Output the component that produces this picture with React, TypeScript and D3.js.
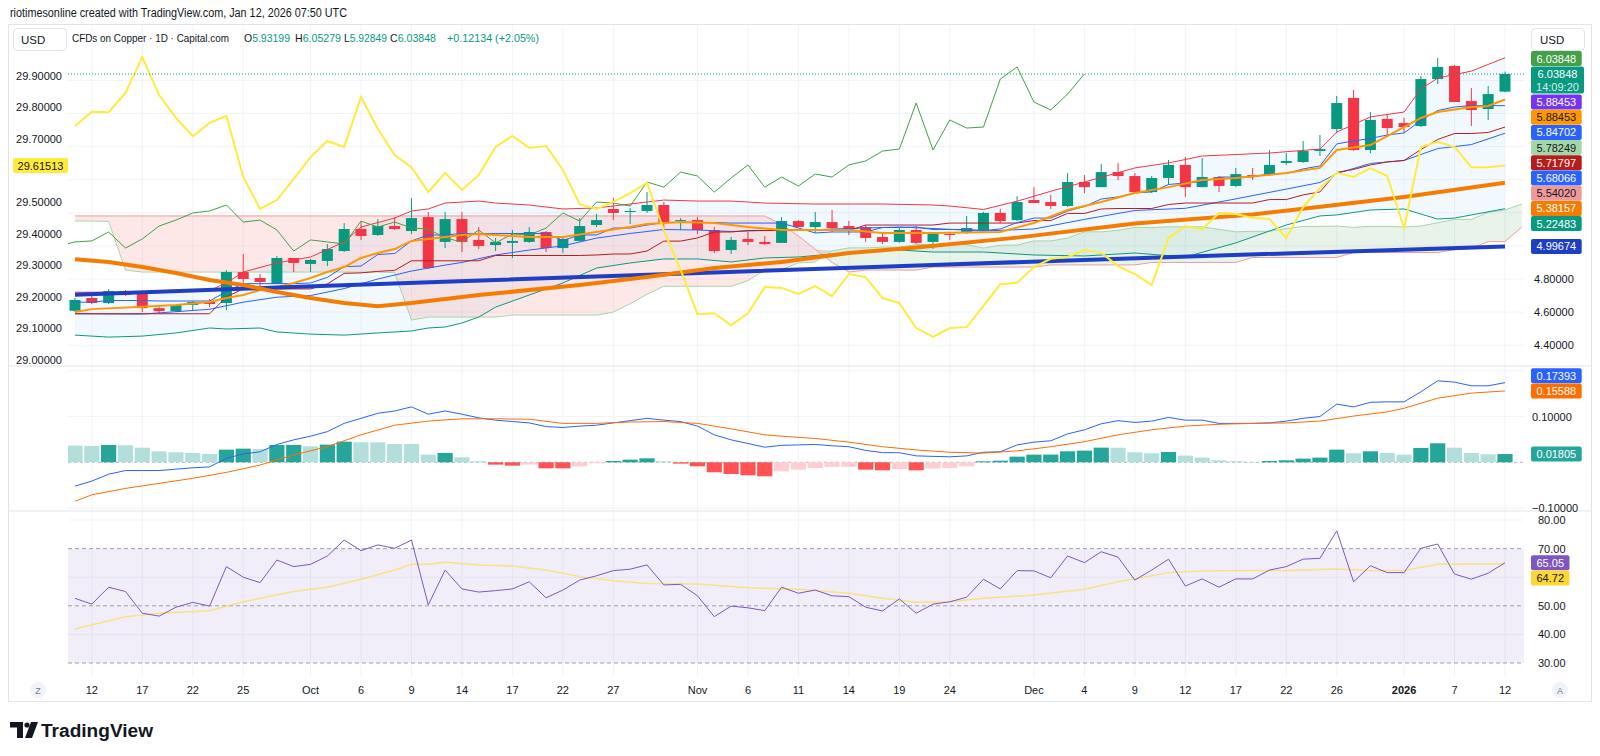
import React from "react";
import * as d3 from "d3";

const FONT = "'Liberation Sans', Arial, sans-serif";
const TEXT = "#131722";
const UP = "#089981";
const DOWN = "#F23645";
const GRID = "#F0F3FA";

// Daily candles, Sep 11 2025 .. Jan 12 2026 (86 sessions)
const opens = [4.608,4.685,4.655,4.727,4.709,4.624,4.606,4.643,4.661,4.655, 4.842,4.806,4.770,4.927,4.891,4.909,4.969,5.102,5.066,5.120, 5.090,5.174,5.024,5.162,5.036,5.005,5.018,5.024,5.084,4.987, 5.030,5.126,5.223,5.205,5.211,5.247,5.150,5.156,5.096,4.975, 5.042,5.024,5.018,5.150,5.114,5.144,5.120,5.114,5.054,5.024, 5.096,5.024,5.072,5.078,5.096,5.199,5.156,5.277,5.265,5.241, 5.386,5.355,5.446,5.422,5.325,5.410,5.489,5.355,5.416,5.362, 5.428,5.428,5.501,5.507,5.573,5.706,5.894,5.579,5.767,5.742, 5.724,6.008,6.087,5.875,5.827,5.93199];
const highs = [4.685,4.703,4.739,4.733,4.715,4.636,4.643,4.667,4.679,4.854, 4.951,4.830,4.939,4.927,4.921,5.011,5.138,5.144,5.162,5.174, 5.289,5.205,5.205,5.205,5.114,5.048,5.096,5.114,5.090,5.054, 5.168,5.193,5.289,5.229,5.325,5.265,5.168,5.174,5.114,5.054, 5.084,5.060,5.174,5.156,5.205,5.217,5.150,5.126,5.078,5.108, 5.120,5.084,5.084,5.181,5.205,5.223,5.301,5.355,5.307,5.440, 5.428,5.495,5.501,5.440,5.422,5.519,5.537,5.531,5.422,5.471, 5.471,5.579,5.561,5.634,5.670,5.906,5.942,5.809,5.791,5.773, 6.026,6.135,6.093,5.954,5.966,6.05279];
const lows = [4.600,4.649,4.649,4.697,4.600,4.594,4.600,4.612,4.630,4.612, 4.776,4.733,4.770,4.842,4.842,4.878,4.963,5.036,5.060,5.096, 5.072,4.860,4.987,4.963,4.981,4.969,4.927,5.018,4.963,4.957, 5.024,5.114,5.156,5.132,5.199,5.084,5.096,5.072,4.957,4.951, 5.005,5.005,5.018,5.114,5.078,5.084,5.066,5.024,5.011,5.018, 5.011,4.981,5.036,5.072,5.090,5.138,5.150,5.259,5.223,5.235, 5.319,5.355,5.398,5.319,5.319,5.368,5.295,5.355,5.325,5.355, 5.398,5.422,5.489,5.501,5.543,5.682,5.573,5.561,5.658,5.682, 5.718,5.978,5.869,5.724,5.761,5.92849];
const closes = [4.673,4.655,4.727,4.703,4.624,4.606,4.643,4.661,4.649,4.842, 4.800,4.782,4.927,4.897,4.915,4.981,5.102,5.060,5.120,5.102, 5.168,4.866,5.162,5.024,4.999,5.024,5.030,5.084,4.987,5.042, 5.120,5.156,5.199,5.211,5.247,5.144,5.156,5.096,4.969,5.036, 5.024,5.011,5.150,5.114,5.144,5.108,5.102,5.048,5.024,5.096, 5.018,5.072,5.066,5.108,5.199,5.150,5.265,5.259,5.241,5.386, 5.355,5.446,5.422,5.325,5.410,5.489,5.355,5.416,5.362,5.434, 5.416,5.489,5.513,5.573,5.585,5.863,5.579,5.761,5.712,5.718, 6.008,6.081,5.869,5.821,5.91714,6.03848];

// Compared symbol on the left scale
const compareLine = [29.740,29.785,29.784,29.845,29.958,29.838,29.766,29.708,29.750,29.772, 29.579,29.478,29.506,29.573,29.642,29.693,29.674,29.832,29.731,29.648, 29.610,29.531,29.592,29.538,29.585,29.674,29.709,29.671,29.677,29.601, 29.493,29.478,29.500,29.528,29.560,29.411,29.285,29.145,29.148,29.110, 29.148,29.231,29.228,29.209,29.234,29.202,29.272,29.262,29.196,29.180, 29.101,29.073,29.101,29.104,29.171,29.240,29.244,29.294,29.320,29.326, 29.348,29.339,29.297,29.272,29.237,29.386,29.424,29.414,29.465,29.462, 29.449,29.446,29.386,29.484,29.544,29.592,29.579,29.607,29.582,29.417, 29.674,29.690,29.674,29.610,29.610,29.61513];

// Ichimoku
const tenkan = [4.66,4.66,4.67,4.67,4.67,4.667,4.667,4.667,4.667,4.724, 4.772,4.772,4.772,4.772,4.776,4.81,4.875,4.878,4.948,4.954, 5.030,5.066,5.066,5.075,5.075,5.075,5.075,5.075,5.075,5.033, 5.066,5.066,5.108,5.108,5.126,5.141,5.141,5.141,5.141,5.138, 5.138,5.138,5.138,5.108,5.078,5.084,5.084,5.084,5.111,5.111, 5.114,5.099,5.099,5.099,5.093,5.102,5.141,5.168,5.168,5.21, 5.238,5.283,5.296,5.32,5.326,5.371,5.38,5.386,5.416,5.416, 5.416,5.437,5.437,5.465,5.483,5.616,5.634,5.649,5.67,5.682, 5.758,5.818,5.839,5.848,5.848,5.84702];
const kijun = [4.59,4.59,4.59,4.59,4.59,4.59,4.59,4.59,4.59,4.692, 4.74,4.74,4.74,4.74,4.74,4.77,4.834,4.837,4.846,4.852, 4.91,4.91,4.91,4.91,4.91,4.942,4.942,4.942,4.942,4.942, 4.942,4.945,4.951,4.951,4.969,5.029,5.029,5.048,5.084,5.084, 5.093,5.093,5.093,5.093,5.093,5.093,5.093,5.126,5.126,5.126, 5.126,5.126,5.138,5.138,5.138,5.138,5.138,5.153,5.153,5.196, 5.196,5.223,5.226,5.226,5.226,5.25,5.259,5.259,5.259,5.259, 5.259,5.28,5.28,5.308,5.326,5.444,5.462,5.489,5.507,5.516, 5.582,5.643,5.679,5.679,5.685,5.71797];
const spanA = [5.150,5.150,5.148,4.854,4.842,4.842,4.842,4.842,4.842,4.842, 4.842,4.842,4.842,4.842,4.842,4.842,4.842,4.842,4.842,4.838, 4.552,4.570,4.570,4.570,4.570,4.570,4.582,4.582,4.582,4.582, 4.582,4.582,4.600,4.650,4.708,4.756,4.756,4.756,4.756,4.756, 4.790,4.855,4.858,4.897,4.903,4.970,4.988,4.988,4.993,4.993, 5.008,5.008,5.008,5.008,4.987,5.004,5.005,5.030,5.030,5.047, 5.085,5.085,5.094,5.112,5.111,5.115,5.115,5.115,5.100,5.085, 5.088,5.088,5.105,5.118,5.118,5.120,5.112,5.118,5.118,5.115, 5.120,5.140,5.160,5.160,5.203,5.217,5.253];
const spanB = [5.181,5.181,5.181,5.181,5.181,5.181,5.181,5.181,5.181,5.181, 5.181,5.181,5.181,5.181,5.181,5.181,5.181,5.181,5.181,5.181, 5.181,5.181,5.181,5.181,5.181,5.181,5.181,5.181,5.181,5.181, 5.181,5.181,5.181,5.181,5.181,5.181,5.181,5.181,5.181,5.181, 5.181,5.181,5.130,5.060,4.980,4.900,4.842,4.854,4.854,4.854, 4.854,4.872,4.872,4.872,4.872,4.872,4.872,4.872,4.885,4.885, 4.885,4.885,4.885,4.885,4.900,4.900,4.900,4.900,4.900,4.900, 4.930,4.930,4.930,4.930,4.930,4.930,4.960,4.960,4.960,4.960, 4.960,4.960,4.977,4.984,5.026,5.026,5.114];

// Bollinger bands, [bar, value]
const bbUpper = [[0,4.72],[4,4.72],[8,4.73],[9,4.776],[10,4.842],[12,4.897],[14,4.933],[16,5.024],[17,5.114],[19,5.168],[20,5.211],[21,5.223],[22,5.259],[24,5.271],[25,5.259],[27,5.247],[29,5.223],[31,5.229],[33,5.253],[35,5.277],[37,5.271],[39,5.271],[41,5.259],[44,5.253],[48,5.253],[51,5.247],[52,5.241],[54,5.22],[56,5.27],[58,5.33],[60,5.386],[63,5.471],[65,5.501],[67,5.543],[71,5.561],[74,5.585],[75,5.688],[77,5.779],[79,5.809],[80,5.948],[81,6.014],[83,6.056],[85,6.13649]];
const bbLower = [[0,4.461],[2,4.449],[4,4.455],[6,4.474],[8,4.504],[9,4.498],[11,4.504],[12,4.48],[14,4.467],[16,4.461],[18,4.474],[20,4.486],[21,4.504],[22,4.51],[23,4.534],[24,4.57],[25,4.63],[27,4.703],[29,4.776],[31,4.866],[33,4.897],[35,4.921],[37,4.921],[39,4.903],[41,4.927],[43,4.933],[45,4.951],[47,4.963],[49,4.975],[51,4.963],[54,4.963],[57,4.945],[60,4.939],[63,4.957],[66,4.933],[69,5.018],[72,5.126],[74,5.181],[75,5.187],[77,5.217],[79,5.223],[81,5.162],[82,5.168],[85,5.22483]];
const bbBasis = [[0,4.59],[4,4.588],[8,4.617],[10,4.66],[12,4.69],[14,4.70],[16,4.742],[18,4.80],[20,4.848],[22,4.884],[23,4.90],[25,4.945],[27,4.975],[29,5.0],[31,5.047],[33,5.075],[35,5.099],[37,5.096],[39,5.087],[41,5.093],[43,5.093],[45,5.102],[47,5.108],[49,5.114],[51,5.105],[54,5.09],[57,5.102],[60,5.16],[63,5.214],[66,5.227],[69,5.284],[72,5.343],[74,5.383],[75,5.437],[77,5.498],[79,5.516],[81,5.588],[83,5.612],[85,5.68066]];

// Moving averages, [bar, value]
const emaFast = [[0,4.60],[1,4.618],[4,4.632],[6,4.643],[8,4.661],[9,4.685],[10,4.703],[11,4.733],[12,4.751],[13,4.776],[14,4.806],[15,4.842],[16,4.872],[17,4.927],[18,4.957],[19,4.981],[20,5.03],[21,5.042],[22,5.054],[23,5.066],[24,5.072],[25,5.066],[27,5.054],[29,5.054],[31,5.084],[33,5.114],[34,5.132],[36,5.144],[38,5.138],[40,5.114],[42,5.096],[46,5.096],[48,5.078],[51,5.078],[55,5.084],[57,5.138],[59,5.217],[61,5.265],[63,5.319],[65,5.355],[67,5.398],[69,5.41],[72,5.44],[74,5.471],[75,5.579],[77,5.609],[79,5.718],[80,5.773],[81,5.809],[83,5.839],[84,5.845],[85,5.88453]];
const maMid = [[0,4.92],[2,4.903],[4,4.873],[6,4.836],[8,4.794],[10,4.764],[12,4.721],[14,4.685],[16,4.655],[18,4.636],[20,4.655],[22,4.679],[24,4.703],[30,4.764],[34,4.812],[38,4.866],[42,4.903],[46,4.957],[50,4.99],[56,5.05],[63,5.135],[70,5.19],[73,5.225],[79,5.295],[85,5.38157]];
const maSlow = [[0,4.705],[12,4.748],[25,4.794],[38,4.840],[51,4.885],[68,4.942],[85,4.99674]];

// MACD (12, 26, 9)
const macdLine = [-0.052,-0.041,-0.026,-0.018,-0.018,-0.018,-0.015,-0.012,-0.010,0.009, 0.018,0.023,0.039,0.049,0.057,0.067,0.085,0.096,0.107,0.112, 0.121,0.105,0.112,0.105,0.097,0.092,0.089,0.086,0.078,0.076, 0.079,0.081,0.086,0.091,0.096,0.092,0.089,0.079,0.060,0.049, 0.041,0.033,0.037,0.038,0.039,0.036,0.034,0.026,0.021,0.021, 0.014,0.013,0.012,0.014,0.022,0.023,0.038,0.044,0.047,0.062, 0.071,0.084,0.091,0.087,0.090,0.098,0.092,0.092,0.085,0.085, 0.085,0.086,0.090,0.096,0.100,0.127,0.121,0.131,0.132,0.132, 0.154,0.178,0.175,0.167,0.167,0.17393];
const signalLine = [[0,-0.085],[1,-0.071],[3,-0.057],[5,-0.046],[7,-0.035],[9,-0.022],[11,-0.006],[13,0.016],[15,0.034],[17,0.060],[19,0.081],[21,0.090],[23,0.095],[25,0.095],[27,0.094],[29,0.085],[31,0.085],[33,0.088],[35,0.089],[37,0.085],[39,0.073],[41,0.060],[42,0.057],[44,0.052],[46,0.044],[48,0.034],[50,0.027],[52,0.022],[54,0.020],[56,0.025],[58,0.034],[60,0.045],[62,0.060],[64,0.071],[66,0.079],[68,0.083],[70,0.085],[72,0.086],[74,0.090],[76,0.101],[78,0.110],[79,0.118],[81,0.140],[83,0.151],[85,0.15588]];
const histogram = [0.0364,0.0357,0.0378,0.0372,0.032,0.024,0.0218,0.0204,0.0182,0.0277, 0.0298,0.0291,0.0378,0.038,0.0349,0.0386,0.0451,0.0437,0.0436,0.040, 0.0399,0.0167,0.0204,0.0109,0.0022,-0.0051,-0.0073,-0.005,-0.0131,-0.0132, -0.0087,-0.0022,0.0029,0.0058,0.0087,0.0022,-0.0029,-0.0087,-0.0218,-0.0255, -0.0284,-0.0306,-0.0197,-0.016,-0.0124,-0.010,-0.0098,-0.016,-0.0175,-0.0146, -0.0175,-0.0138,-0.0124,-0.0087,0.0022,0.0036,0.0124,0.0167,0.0168,0.024, 0.0255,0.032,0.0318,0.0218,0.0197,0.0226,0.0146,0.0102,0.0044,0.0022, 0.0007,0.0029,0.0044,0.008,0.0102,0.0277,0.0197,0.024,0.0204,0.0167, 0.0313,0.0415,0.032,0.0204,0.0175,0.01805];

// RSI (14) and its moving average
const rsi = [52.6,50.6,56.5,55.0,47.4,46.4,49.5,51.2,49.9,63.7, 60.0,58.1,66.0,63.7,64.5,67.4,73.0,69.3,71.3,70.1, 73.0,50.3,62.5,55.9,54.8,55.3,55.9,58.4,52.8,55.5, 59.0,60.5,62.3,62.8,64.3,57.3,57.5,53.5,46.2,49.9, 49.3,48.3,56.5,54.4,55.5,53.5,53.2,49.5,48.2,52.4, 47.4,50.6,51.4,53.0,59.3,55.9,62.3,62.2,59.8,67.4, 65.1,68.9,67.0,59.0,62.5,66.3,56.9,59.4,56.5,59.4, 59.4,62.5,63.7,66.3,66.6,76.2,58.4,64.0,61.6,61.6, 70.1,71.6,61.1,59.3,61.4,65.05];
const rsiMa = [[0,41.9],[3,46.2],[5,47.4],[8,48.3],[10,51.4],[13,55.0],[15,56.5],[17,59.3],[19,62.5],[20,64.5],[21,64.5],[22,65.2],[24,64.3],[26,63.9],[28,62.5],[30,60.2],[32,58.8],[34,57.8],[37,57.6],[40,56.3],[43,55.8],[46,54.4],[48,52.6],[50,51.2],[52,51.4],[54,52.6],[57,53.8],[60,55.8],[62,58.4],[65,61.6],[67,62.2],[70,62.3],[72,62.3],[75,62.9],[77,62.3],[79,62.3],[81,64.5],[84,64.6],[85,64.72]];

const priceTicks = [4.4, 4.6, 4.8, 5.0, 5.2, 5.4, 5.6, 5.8, 6.0];
const leftTicks = [29.0, 29.1, 29.2, 29.3, 29.4, 29.5, 29.6, 29.7, 29.8, 29.9];
const macdTicks = [-0.1, 0, 0.1, 0.2];
const rsiTicks = [30, 40, 50, 60, 70, 80];
const dateTicks = [[1,"12"],[4,"17"],[7,"22"],[10,"25"],[14,"Oct"],[17,"6"],[20,"9"],[23,"14"],[26,"17"],[29,"22"],[32,"27"],[37,"Nov"],[40,"6"],[43,"11"],[46,"14"],[49,"19"],[52,"24"],[57,"Dec"],[60,"4"],[63,"9"],[66,"12"],[69,"17"],[72,"22"],[75,"26"],[79,"2026"],[82,"7"],[85,"12"]];

const PLOT_L = 68;
const PLOT_R = 1524;
const MAIN_T = 25;
const MAIN_B = 366;
const MACD_B = 511;
const RSI_B = 677;
const TAG_X = 1531;

const x = d3.scaleLinear().domain([0, 85]).range([75, 1505]);
const yPrice = d3.scaleLinear().domain([4.8, 6.03848]).range([279, 74]);
const yLeft = d3.scaleLinear().domain([29.0, 29.9]).range([360, 75.5]);
const yMacd = d3.scaleLinear().domain([-0.1, 0.1]).range([508.1, 416.5]);
const yRsi = d3.scaleLinear().domain([30, 80]).range([663, 520]);

const indexed = (arr) => arr.map((v, i) => [i, v]);
const linePath = (scale, pts) =>
  d3.line().x((d) => x(d[0])).y((d) => scale(d[1]))(pts);

const tagWidth = (t) => t.length * 6.1 + 8;

const Tag = ({ y, text, bg, fg }) => (
  <g>
    <rect x={TAG_X} y={y - 7.5} width={tagWidth(text)} height={15} rx={2} fill={bg} />
    <text x={TAG_X + tagWidth(text) / 2} y={y + 4} textAnchor="middle" fontSize={11} fill={fg}>
      {text}
    </text>
  </g>
);

export default function App() {
  const last = closes.length - 1;

  // cloud between leading spans, red where span B is on top
  const cloudIdx = d3.range(spanA.length);
  const redCloud = d3.area()
    .x((i) => x(i))
    .y0((i) => yPrice(spanA[i]))
    .y1((i) => yPrice(Math.max(spanA[i], spanB[i])))(cloudIdx);
  const greenCloud = d3.area()
    .x((i) => x(i))
    .y0((i) => yPrice(spanB[i]))
    .y1((i) => yPrice(Math.max(spanA[i], spanB[i])))(cloudIdx);

  const bbFill =
    linePath(yPrice, bbUpper) +
    linePath(yPrice, bbLower.slice().reverse()).replace(/^M/, "L") +
    "Z";

  const chikou = d3.range(-1, last - 24).map((i) => [i, closes[i + 25]]);

  // right-scale tags stacked under the last price tag
  const priceY = yPrice(closes[last]);
  const priceTop = priceY - 7.5;
  const stacked = [
    { v: 5.88453, text: "5.88453", bg: "#7434F4", fg: "#fff" },
    { v: 5.88453, text: "5.88453", bg: "#FF9800", fg: TEXT },
    { v: tenkan[last], text: "5.84702", bg: "#2962FF", fg: "#fff" },
    { v: 5.78249, text: "5.78249", bg: "#A5D6A7", fg: TEXT },
    { v: kijun[last], text: "5.71797", bg: "#B71C1C", fg: "#fff" },
    { v: 5.68066, text: "5.68066", bg: "#2962FF", fg: "#fff" },
    { v: 5.5402, text: "5.54020", bg: "#EF9A9A", fg: TEXT },
    { v: 5.38157, text: "5.38157", bg: "#F57C00", fg: "#fff" },
    { v: 5.22483, text: "5.22483", bg: "#089981", fg: "#fff" },
    { v: 4.99674, text: "4.99674", bg: "#1E3FC4", fg: "#fff" },
  ];
  let cursor = priceTop + 27 + 1;
  const mainTags = stacked.map((t) => {
    const y = Math.max(yPrice(t.v), cursor + 7.5);
    cursor = y + 7.7;
    return { ...t, y };
  });

  const sigY = yMacd(0.15588);
  const macdY = Math.min(yMacd(0.17393), sigY - 15.2);
  const histY = yMacd(0.01805);
  const rsiY = yRsi(65.05);
  const rsiMaY = Math.max(yRsi(64.72), rsiY + 15.2);

  // axis values hidden behind the tags are not printed
  const tagCenters = [
    priceTop - 8, priceY, priceY + 12.5,
    ...mainTags.map((t) => t.y),
    macdY, sigY, histY, rsiY, rsiMaY,
  ];
  const freeOfTags = (y) => tagCenters.every((c) => Math.abs(c - y) > 13);
  const leftTagY = yLeft(29.61513);

  const histColor = (i) => {
    const h = histogram[i];
    const prev = i > 0 ? histogram[i - 1] : h;
    if (h >= 0) return prev < h ? "#26A69A" : "#B2DFDB";
    return prev < h ? "#FFCDD2" : "#FF5252";
  };

  return (
    <svg
      width={1600}
      height={756}
      style={{ position: "absolute", left: 0, top: 0, background: "#fff" }}
      fontFamily={FONT}
    >
      <defs>
        <clipPath id="mainClip">
          <rect x={PLOT_L} y={MAIN_T} width={PLOT_R - PLOT_L} height={MAIN_B - MAIN_T} />
        </clipPath>
        <clipPath id="macdClip">
          <rect x={PLOT_L} y={MAIN_B} width={PLOT_R - PLOT_L} height={MACD_B - MAIN_B} />
        </clipPath>
        <clipPath id="rsiClip">
          <rect x={PLOT_L} y={MACD_B} width={PLOT_R - PLOT_L} height={RSI_B - MACD_B} />
        </clipPath>
      </defs>
      <rect width={1600} height={756} fill="#fff" />

      <text x={10} y={17} fontSize={12} fill={TEXT} textLength={337} lengthAdjust="spacingAndGlyphs">
        riotimesonline created with TradingView.com, Jan 12, 2026 07:50 UTC
      </text>

      {/* frame */}
      <rect x={8.5} y={24.5} width={1583} height={677} fill="none" stroke="#E0E3EB" />

      {/* grid */}
      <g stroke={GRID} strokeWidth={1}>
        {dateTicks.map(([i]) => (
          <line key={"v" + i} x1={x(i)} x2={x(i)} y1={MAIN_T} y2={RSI_B} />
        ))}
        {priceTicks.map((t) => (
          <line key={"p" + t} x1={PLOT_L} x2={PLOT_R} y1={yPrice(t)} y2={yPrice(t)} />
        ))}
        {macdTicks.filter((t) => t !== 0).map((t) => (
          <line key={"m" + t} x1={PLOT_L} x2={PLOT_R} y1={yMacd(t)} y2={yMacd(t)} />
        ))}
        {[40, 60, 80].map((t) => (
          <line key={"r" + t} x1={PLOT_L} x2={PLOT_R} y1={yRsi(t)} y2={yRsi(t)} />
        ))}
      </g>

      {/* main pane */}
      <g clipPath="url(#mainClip)">
        <path d={bbFill} fill="rgba(33,150,243,0.06)" />
        <path d={redCloud} fill="rgba(244,67,54,0.12)" />
        <path d={greenCloud} fill="rgba(67,160,71,0.12)" />
        <path d={linePath(yPrice, indexed(spanA))} fill="none" stroke="#A5D6A7" strokeWidth={1} />
        <path d={linePath(yPrice, indexed(spanB))} fill="none" stroke="#EF9A9A" strokeWidth={1} />

        {closes.map((c, i) => {
          const o = opens[i];
          const col = c >= o ? UP : DOWN;
          const top = yPrice(Math.max(o, c));
          const bot = yPrice(Math.min(o, c));
          return (
            <g key={"c" + i}>
              <line x1={x(i)} x2={x(i)} y1={yPrice(highs[i])} y2={yPrice(lows[i])} stroke={col} strokeWidth={1} />
              <rect x={x(i) - 5.5} y={top} width={11} height={Math.max(1, bot - top)} fill={col} />
            </g>
          );
        })}

        <path d={linePath(yPrice, bbUpper)} fill="none" stroke="#F23645" strokeWidth={1} />
        <path d={linePath(yPrice, bbLower)} fill="none" stroke="#089981" strokeWidth={1} />
        <path d={linePath(yPrice, bbBasis)} fill="none" stroke="#2962FF" strokeWidth={1} />
        <path d={linePath(yPrice, indexed(kijun))} fill="none" stroke="#B71C1C" strokeWidth={1} />
        <path d={linePath(yPrice, indexed(tenkan))} fill="none" stroke="#2962FF" strokeWidth={1} />
        <path d={linePath(yPrice, chikou)} fill="none" stroke="#43A047" strokeWidth={1} />
        <path d={linePath(yPrice, emaFast)} fill="none" stroke="#FF9800" strokeWidth={2} />
        <path d={linePath(yPrice, maSlow)} fill="none" stroke="#1E3FC4" strokeWidth={4} />
        <path d={linePath(yPrice, maMid)} fill="none" stroke="#F57C00" strokeWidth={4} />
        <path d={linePath(yLeft, indexed(compareLine))} fill="none" stroke="#FFEB3B" strokeWidth={2} />
        <line x1={PLOT_L} x2={PLOT_R} y1={priceY} y2={priceY} stroke={UP} strokeWidth={1} strokeDasharray="1 2" />
      </g>

      {/* MACD pane */}
      <line x1={8} x2={1592} y1={MAIN_B} y2={MAIN_B} stroke="#E0E3EB" />
      <g clipPath="url(#macdClip)">
        <line x1={PLOT_L} x2={PLOT_R} y1={yMacd(0)} y2={yMacd(0)} stroke="#B2B5BE" strokeDasharray="3 3" />
        {histogram.map((h, i) => (
          <rect
            key={"h" + i}
            x={x(i) - 7.6}
            y={Math.min(yMacd(h), yMacd(0))}
            width={15.2}
            height={Math.max(0.5, Math.abs(yMacd(h) - yMacd(0)))}
            fill={histColor(i)}
          />
        ))}
        <path d={linePath(yMacd, indexed(macdLine))} fill="none" stroke="#2962FF" strokeWidth={1} />
        <path d={linePath(yMacd, signalLine)} fill="none" stroke="#FF6D00" strokeWidth={1} />
      </g>

      {/* RSI pane */}
      <line x1={8} x2={1592} y1={MACD_B} y2={MACD_B} stroke="#E0E3EB" />
      <g clipPath="url(#rsiClip)">
        <rect x={PLOT_L} y={yRsi(70)} width={PLOT_R - PLOT_L} height={yRsi(30) - yRsi(70)} fill="rgba(126,87,194,0.1)" />
        {[70, 50, 30].map((t) => (
          <line key={"d" + t} x1={PLOT_L} x2={PLOT_R} y1={yRsi(t)} y2={yRsi(t)} stroke="#787B86" strokeDasharray="4 3" strokeOpacity={0.7} />
        ))}
        <path d={linePath(yRsi, rsiMa)} fill="none" stroke="#FDD835" strokeOpacity={0.6} strokeWidth={1.5} />
        <path d={linePath(yRsi, indexed(rsi))} fill="none" stroke="#7E57C2" strokeWidth={1} />
      </g>

      {/* left scale */}
      <g fontSize={11} fill={TEXT} textAnchor="end">
        {leftTicks
          .filter((t) => Math.abs(yLeft(t) - leftTagY) > 13)
          .map((t) => (
            <text key={"l" + t} x={62} y={yLeft(t) + 4}>{t.toFixed(5)}</text>
          ))}
      </g>
      <rect x={13} y={leftTagY - 7.5} width={55} height={15} rx={2} fill="#FFEB3B" />
      <text x={40.5} y={leftTagY + 4} fontSize={11} textAnchor="middle" fill={TEXT}>29.61513</text>

      {/* right scale */}
      <g fontSize={11} fill={TEXT}>
        {priceTicks.filter((t) => freeOfTags(yPrice(t))).map((t) => (
          <text key={"rp" + t} x={1534} y={yPrice(t) + 4}>{t.toFixed(5)}</text>
        ))}
        {macdTicks.filter((t) => freeOfTags(yMacd(t))).map((t) => (
          <text key={"rm" + t} x={1532} y={yMacd(t) + 4}>{(t < 0 ? "\u2212" : "") + Math.abs(t).toFixed(5)}</text>
        ))}
        {rsiTicks.filter((t) => freeOfTags(yRsi(t))).map((t) => (
          <text key={"rr" + t} x={1538} y={yRsi(t) + 4}>{t.toFixed(2)}</text>
        ))}
      </g>

      <Tag y={priceTop - 8} text="6.03848" bg="#43A047" fg="#fff" />
      <rect x={TAG_X} y={priceTop} width={53} height={27} rx={2} fill={UP} />
      <text x={TAG_X + 26.5} y={priceY + 4} textAnchor="middle" fontSize={11} fill="#fff">6.03848</text>
      <text x={TAG_X + 26.5} y={priceY + 16.5} textAnchor="middle" fontSize={11} fill="rgba(255,255,255,0.85)">14:09:20</text>
      {mainTags.map((t, k) => (
        <Tag key={"t" + k} y={t.y} text={t.text} bg={t.bg} fg={t.fg} />
      ))}
      <Tag y={macdY} text="0.17393" bg="#2962FF" fg="#fff" />
      <Tag y={sigY} text="0.15588" bg="#FF6D00" fg="#fff" />
      <Tag y={histY} text="0.01805" bg="#26A69A" fg="#fff" />
      <Tag y={rsiY} text="65.05" bg="#7E57C2" fg="#fff" />
      <Tag y={rsiMaY} text="64.72" bg="#FDD835" fg={TEXT} />

      {/* legend */}
      <rect x={13.5} y={28.5} width={53} height={22} rx={4} fill="#fff" stroke="#E0E3EB" />
      <text x={21} y={44} fontSize={11.5} fill={TEXT}>USD</text>
      <rect x={1531.5} y={28.5} width={53} height={22} rx={4} fill="#fff" stroke="#E0E3EB" />
      <text x={1540} y={44} fontSize={11.5} fill={TEXT}>USD</text>
      <g fontSize={11}>
        <text x={72} y={42} fill={TEXT} textLength={157} lengthAdjust="spacingAndGlyphs">CFDs on Copper · 1D · Capital.com</text>
        <text x={244} y={42} fill={TEXT} textLength={46} lengthAdjust="spacingAndGlyphs">O<tspan fill={UP}>5.93199</tspan></text>
        <text x={295} y={42} fill={TEXT} textLength={46} lengthAdjust="spacingAndGlyphs">H<tspan fill={UP}>6.05279</tspan></text>
        <text x={344} y={42} fill={TEXT} textLength={43} lengthAdjust="spacingAndGlyphs">L<tspan fill={UP}>5.92849</tspan></text>
        <text x={390} y={42} fill={TEXT} textLength={46} lengthAdjust="spacingAndGlyphs">C<tspan fill={UP}>6.03848</tspan></text>
        <text x={447} y={42} fill={UP} textLength={92} lengthAdjust="spacingAndGlyphs">+0.12134 (+2.05%)</text>
      </g>

      {/* time axis */}
      <g fontSize={11} fill={TEXT} textAnchor="middle">
        {dateTicks.map(([i, lab]) => (
          <text key={"x" + i} x={x(i)} y={694} fontWeight={lab === "2026" ? "bold" : "normal"}>{lab}</text>
        ))}
      </g>
      <circle cx={38} cy={690} r={8} fill="#F0F3FA" />
      <text x={38} y={693.5} fontSize={9} textAnchor="middle" fill="#787B86">Z</text>
      <circle cx={1560} cy={690} r={8} fill="#F0F3FA" />
      <text x={1560} y={693.5} fontSize={9} textAnchor="middle" fill="#787B86">A</text>

      {/* footer logo */}
      <g fill={TEXT}>
        <path d="M10,722 H23 V738 H17 V727.5 H10 Z" />
        <circle cx={27} cy={725} r={2.6} />
        <path d="M31,722 H38 L32,738 H25 Z" />
        <text x={41} y={737} fontSize={17.5} fontWeight="bold" textLength={112} lengthAdjust="spacingAndGlyphs">TradingView</text>
      </g>
    </svg>
  );
}
